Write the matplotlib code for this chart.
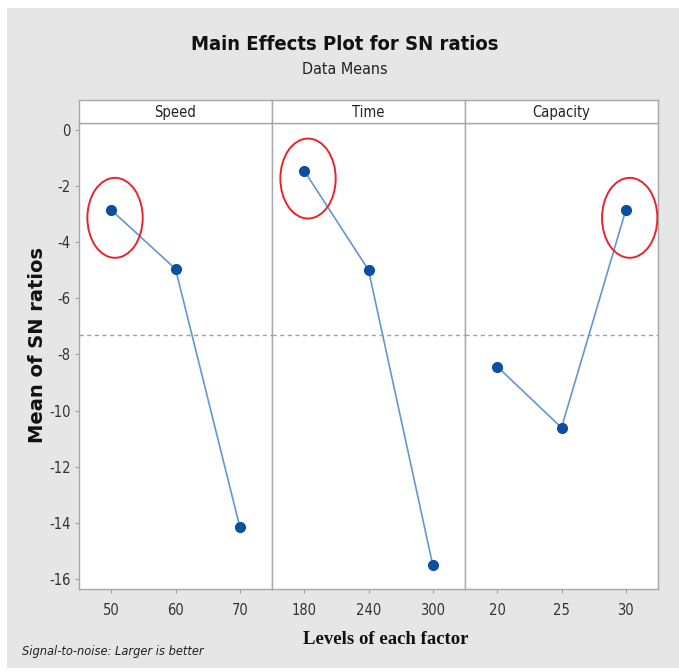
import numpy as np
import matplotlib.pyplot as plt
from matplotlib.patches import Ellipse, Rectangle

factors = ["Speed", "Time", "Capacity"]
levels = [["50", "60", "70"], ["180", "240", "300"], ["20", "25", "30"]]
sn_means = [[-2.85, -4.95, -14.15],
            [-1.45, -4.99, -15.52],
            [-8.43, -10.61, -2.85]]
best_idx = [0, 0, 2]

narrow = dict(family='DejaVu Sans', fontstretch='condensed')
grand_mean = np.mean(sn_means)

fig = plt.figure(figsize=(6.79, 6.72), dpi=100)
fig.patch.set_facecolor('white')
fig.patches.append(Rectangle((7/679, 1 - 668/672), 672/679, 660/672,
                             transform=fig.transFigure, facecolor='#e6e6e6',
                             edgecolor='none', zorder=-5))

left = 79/679
w = 193/679
bottom = 1 - 589/672
h = (589 - 123)/672
strip_h = 23/672

for k in range(3):
    ax = fig.add_axes([left + k*w, bottom, w, h])
    ax.set_facecolor('white')
    x = np.arange(3)
    ax.plot(x, sn_means[k], color='#6496cf', lw=1.2, zorder=3)
    ax.plot(x, sn_means[k], 'o', color='#0b4ea2', ms=7, zorder=4)
    ax.axhline(grand_mean, color='#a0a0a0', lw=1.0, ls=(0, (3, 2.5)), zorder=2)
    bi = best_idx[k]
    ax.add_patch(Ellipse((bi + 0.06, sn_means[k][bi] - 0.28), 0.86, 2.85,
                         fill=False, edgecolor='#e8242c', lw=1.4, zorder=5))
    ax.set_xlim(-0.5, 2.5)
    ax.set_ylim(-16.36, 0.25)
    ax.set_xticks(x)
    ax.set_xticklabels(levels[k], fontsize=10.5, color='#333333', **narrow)
    ax.tick_params(axis='x', length=3, color='#a0a0a0', pad=7)
    if k == 0:
        ax.set_yticks(np.arange(-16, 1, 2))
        ax.set_yticklabels([str(v) for v in range(-16, 1, 2)],
                           fontsize=10.5, color='#333333', **narrow)
        ax.tick_params(axis='y', length=3, color='#a0a0a0', pad=3)
    else:
        ax.set_yticks([])
    for s in ax.spines.values():
        s.set_color('#a8a8a8')
        s.set_linewidth(1.0)

    sax = fig.add_axes([left + k*w, bottom + h, w, strip_h])
    sax.set_facecolor('white')
    sax.set_xticks([])
    sax.set_yticks([])
    for s in sax.spines.values():
        s.set_color('#a8a8a8')
        s.set_linewidth(1.0)
    sax.text(0.5, 0.45, factors[k], ha='center', va='center',
             fontsize=10.5, color='#222222', transform=sax.transAxes, **narrow)

fig.text(345/679, 1 - 45/672, "Main Effects Plot for SN ratios", ha='center',
         va='center', fontsize=14.5, fontweight='bold', color='#111111', **narrow)
fig.text(345/679, 1 - 70/672, "Data Means", ha='center', va='center',
         fontsize=11.5, color='#222222', **narrow)
fig.text(38/679, 1 - 345/672, "Mean of SN ratios", rotation=90, ha='center',
         va='center', fontsize=14, fontweight='bold', color='#111111')
fig.text(386/679, 1 - 640/672, "Levels of each factor", ha='center', va='center',
         family=['Liberation Serif', 'DejaVu Serif'], fontsize=13.5,
         fontweight='bold', color='#111111')
fig.text(22/679, 1 - 651/672, "Signal-to-noise: Larger is better", ha='left',
         va='center', fontsize=9.2, style='italic', color='#222222', **narrow)

plt.savefig('out.png', dpi=100)
